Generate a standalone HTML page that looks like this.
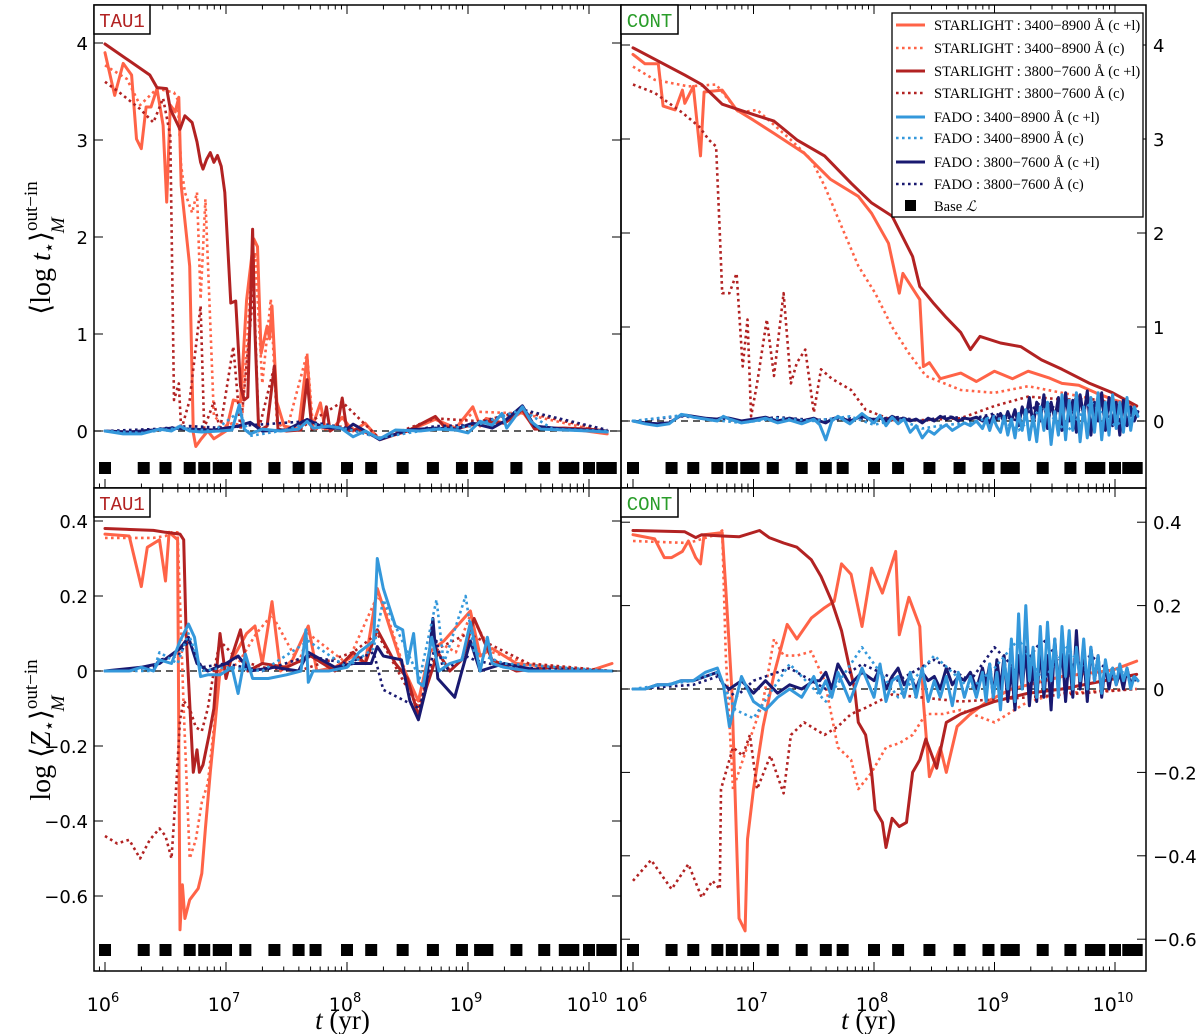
<!DOCTYPE html>
<html><head><meta charset="utf-8"><style>
html,body{margin:0;padding:0;background:#fff;}
svg{display:block;}
</style></head><body>
<svg id="fig" xmlns="http://www.w3.org/2000/svg" width="1200" height="1034" viewBox="0 0 1200 1034"></svg>
<script>
// ---------- base ages (log t) ----------
const baseAges=[6.0,6.32,6.5,6.7,6.82,6.94,7.0,7.16,7.4,7.6,7.74,8.0,8.2,8.46,8.71,8.95,9.1,9.16,9.4,9.63,9.8,9.87,10.0,10.11,10.18];
// ---------- shared grid for noisy FADO series in CONT panels ----------
const gridF=[6.0,6.1,6.2,6.3,6.4,6.45,6.5,6.6,6.7,6.75,6.8,6.9,7.0,7.1,7.2,7.3,7.4,7.5,7.55,7.6,7.65,7.7,7.8,7.9,8.0,8.05,8.1,8.15,8.2,8.25,8.3,8.35,8.4,8.45,8.5,8.55,8.6,8.65,8.7,8.75,8.8,8.85,8.9,8.93,8.96,8.99,9.02,9.05,9.08,9.11,9.14,9.17,9.2,9.23,9.26,9.29,9.32,9.35,9.38,9.41,9.44,9.47,9.5,9.53,9.56,9.59,9.62,9.65,9.68,9.71,9.74,9.77,9.8,9.83,9.86,9.89,9.92,9.95,9.98,10.01,10.04,10.07,10.1,10.13,10.16,10.19];

// ===== TOP-LEFT (TAU1, log t) =====
const tl_slA_t=[6.0,6.08,6.15,6.22,6.26,6.3,6.34,6.38,6.43,6.48,6.51,6.54,6.58,6.61,6.63,6.7,6.73,6.75,6.79,6.85,6.9,7.0,7.06,7.12,7.17,7.23,7.26,7.29,7.34,7.36,7.38,7.42,7.48,7.6,7.67,7.71,7.78,7.82,7.9,7.96,8.05,8.15,8.27,8.5,8.73,8.9,9.04,9.1,9.15,9.3,9.45,9.55,9.8,10.15];
const tl_slA_v=[3.9,3.46,3.79,3.67,3.01,2.91,3.34,3.34,3.53,3.15,2.36,3.36,3.29,3.44,2.53,1.7,-0.02,-0.16,-0.09,0.0,-0.08,0.0,0.32,0.3,1.35,1.98,1.9,0.8,1.08,0.95,1.29,0.3,0.05,0.02,0.77,0.03,0.29,0.02,0.05,0.14,0.0,0.08,-0.09,0.0,0.12,0.03,0.25,0.05,0.13,0.08,0.2,0.03,0.03,-0.03];
const tl_slAc_t=[6.0,6.18,6.29,6.43,6.57,6.6,6.63,6.66,6.72,6.76,6.79,6.83,6.86,6.9,7.0,7.05,7.13,7.2,7.24,7.3,7.37,7.42,7.5,7.67,7.72,8.0,8.27,8.5,8.9,9.05,9.45,10.15];
const tl_slAc_v=[3.77,3.63,3.36,3.53,3.49,3.42,2.73,2.46,2.25,2.46,1.36,2.39,1.42,0.15,0.05,0.08,0.06,1.42,1.84,0.49,1.36,0.1,0.0,0.8,0.02,0.05,-0.08,0.0,0.03,0.2,0.18,-0.02];
const tl_slB_t=[6.0,6.37,6.43,6.51,6.54,6.62,6.66,6.72,6.76,6.79,6.81,6.84,6.87,6.9,6.93,6.96,6.99,7.04,7.08,7.12,7.15,7.18,7.22,7.24,7.27,7.34,7.4,7.43,7.5,7.62,7.67,7.71,7.8,7.83,7.86,7.92,7.96,8.0,8.1,8.27,8.5,8.73,8.8,8.9,9.05,9.15,9.3,9.45,9.55,9.8,10.0,10.15];
const tl_slB_v=[3.99,3.67,3.54,3.53,3.32,3.11,3.25,3.18,2.98,2.77,2.7,2.8,2.87,2.77,2.84,2.73,2.46,1.32,1.34,0.46,0.32,0.35,2.08,1.01,0.0,0.05,0.67,0.02,0.0,0.01,0.53,0.02,0.05,0.25,0.0,0.05,0.34,0.0,0.02,-0.08,0.0,0.15,0.05,0.02,0.07,0.1,0.08,0.22,0.02,0.03,0.02,0.0];
const tl_slBc_t=[6.0,6.12,6.29,6.4,6.48,6.54,6.57,6.61,6.63,6.7,6.79,6.82,6.9,6.95,7.06,7.12,7.23,7.27,7.4,7.43,7.6,7.96,8.27,8.73,9.1,9.45,10.15];
const tl_slBc_v=[3.6,3.49,3.32,3.18,3.43,3.04,0.32,0.49,0.01,0.32,1.29,0.03,0.3,0.01,0.87,0.01,1.49,0.01,0.67,0.01,0.02,0.3,-0.08,0.13,0.1,0.2,0.0];
const tl_fdA_t=[6.0,6.15,6.3,6.45,6.55,6.62,6.7,6.8,6.95,7.05,7.11,7.15,7.2,7.3,7.45,7.6,7.67,7.72,7.85,7.95,8.05,8.15,8.27,8.4,8.6,8.75,8.9,9.0,9.1,9.2,9.28,9.32,9.45,9.52,9.6,9.8,10.0,10.15];
const tl_fdA_v=[0.0,-0.03,-0.03,0.02,0.0,0.05,0.0,-0.01,0.0,0.01,0.27,0.02,-0.03,0.02,0.0,0.02,0.1,0.03,0.05,0.03,-0.06,0.0,-0.08,0.01,0.0,0.02,0.01,-0.02,0.1,0.06,0.18,0.03,0.25,0.1,0.02,0.01,0.0,-0.01];
const tl_fdAc_t=[6.0,6.3,6.6,6.9,7.11,7.2,7.5,7.67,8.0,8.27,8.7,9.05,9.28,9.45,9.7,10.15];
const tl_fdAc_v=[0.0,-0.02,0.03,0.0,0.2,-0.05,0.01,0.08,0.02,-0.07,0.02,0.05,0.15,0.22,0.02,0.0];
const tl_fdB_t=[6.0,6.2,6.4,6.55,6.7,6.9,7.1,7.2,7.3,7.5,7.67,7.8,8.0,8.05,8.15,8.27,8.5,8.73,8.9,9.04,9.2,9.3,9.45,9.55,9.8,10.15];
const tl_fdB_v=[0.0,-0.01,0.01,0.03,0.02,0.01,0.05,0.09,0.0,0.01,0.12,0.04,0.02,0.07,0.0,-0.09,0.01,0.03,0.02,0.08,0.03,0.1,0.26,0.05,0.02,0.0];
const tl_fdBc_t=[6.0,6.4,6.7,7.0,7.2,7.67,8.0,8.27,8.73,9.04,9.45,10.15];
const tl_fdBc_v=[0.0,0.02,0.05,0.03,0.06,0.1,0.03,-0.07,0.05,0.06,0.22,0.01];

// ===== TOP-RIGHT (CONT, log t) =====
const tr_slA_t=[6.0,6.1,6.21,6.25,6.35,6.41,6.43,6.5,6.56,6.59,6.74,6.86,7.0,7.17,7.42,7.64,7.87,7.98,8.12,8.21,8.24,8.38,8.41,8.46,8.55,8.72,8.85,9.0,9.15,9.28,9.45,9.56,9.7,9.84,10.0,10.18];
const tr_slA_v=[3.9,3.8,3.8,3.35,3.31,3.52,3.38,3.56,2.82,3.5,3.52,3.31,3.2,3.06,2.85,2.57,2.39,2.21,1.89,1.36,1.57,1.29,0.58,0.62,0.45,0.51,0.42,0.53,0.45,0.53,0.46,0.4,0.38,0.3,0.22,0.16];
const tr_slAc_t=[6.0,6.18,6.46,6.69,6.88,7.03,7.31,7.48,7.59,7.73,7.87,8.01,8.15,8.29,8.43,8.72,9.0,9.28,9.56,9.84,10.18];
const tr_slAc_v=[3.77,3.63,3.56,3.58,3.28,3.31,2.99,2.78,2.5,2.07,1.65,1.36,1.0,0.72,0.48,0.33,0.3,0.37,0.3,0.23,0.16];
const tr_slB_t=[6.0,6.43,6.57,6.74,7.0,7.17,7.36,7.59,7.81,7.98,8.15,8.32,8.38,8.49,8.6,8.72,8.8,8.88,9.05,9.22,9.39,9.56,9.79,9.98,10.18];
const tr_slB_v=[3.97,3.68,3.58,3.37,3.26,3.19,2.99,2.82,2.53,2.32,2.18,1.75,1.43,1.26,1.1,0.94,0.76,0.9,0.83,0.79,0.65,0.55,0.4,0.3,0.16];
const tr_slBc_t=[6.0,6.18,6.41,6.55,6.63,6.69,6.72,6.74,6.8,6.86,6.91,6.95,6.98,7.03,7.11,7.17,7.25,7.31,7.36,7.43,7.5,7.56,7.65,7.81,7.93,8.15,8.43,8.72,9.0,9.28,9.56,9.84,10.18];
const tr_slBc_v=[3.58,3.49,3.28,3.13,2.99,2.92,2.0,1.36,1.36,1.57,0.58,1.08,0.05,0.4,1.08,0.48,1.36,0.4,0.62,0.76,0.09,0.55,0.45,0.33,0.12,0.01,0.01,0.03,0.16,0.26,0.23,0.23,0.12];
const tr_fdA_v=[0.0,-0.03,-0.05,-0.03,0.07,0.06,0.04,0.02,0.0,0.05,
0.02,-0.02,0.0,0.03,-0.02,0.01,-0.03,0.02,-0.04,-0.2,
0.0,0.05,-0.03,0.08,-0.02,0.06,-0.05,0.04,-0.03,0.02,
-0.12,-0.05,-0.18,-0.1,-0.14,-0.08,-0.04,-0.1,-0.06,-0.02,
-0.05,0.0,-0.08,0.02,-0.1,0.03,-0.06,-0.12,0.05,-0.15,
0.02,-0.18,0.08,-0.1,0.12,-0.2,0.05,-0.22,0.15,-0.1,
0.2,-0.25,0.1,-0.15,0.28,-0.2,0.22,-0.1,0.3,-0.22,
0.15,-0.18,0.25,-0.12,0.3,-0.2,0.2,-0.15,0.28,-0.08,
0.2,-0.12,0.25,-0.1,0.15,0.05];
const tr_fdB_v=[0.0,-0.02,-0.03,-0.02,0.06,0.06,0.05,0.03,0.02,0.04,
0.03,0.0,0.02,0.04,0.0,0.03,0.0,0.03,0.0,-0.02,
0.02,0.04,0.0,0.05,0.01,0.04,0.0,0.05,0.02,0.03,
0.0,0.02,-0.02,0.03,0.0,0.05,0.02,0.04,0.0,0.03,
0.02,0.04,0.0,0.05,-0.02,0.06,0.02,0.08,-0.02,0.1,
0.0,0.12,-0.05,0.15,0.02,0.25,-0.05,0.2,0.0,0.28,
-0.08,0.2,0.02,0.25,-0.1,0.3,0.0,0.22,-0.12,0.28,
0.05,0.32,-0.15,0.2,0.0,0.3,-0.1,0.25,-0.05,0.2,
-0.15,0.22,-0.05,0.15,0.0,0.1];
const tr_fdc_t=[6.0,6.4,6.6,6.9,7.2,7.5,7.8,8.0,8.2,8.4,8.6,8.8,9.0,9.2,9.4,9.6,9.8,10.0,10.19];
const tr_fdAc_v=[0.0,0.06,0.02,-0.02,0.03,0.0,0.05,-0.04,0.02,-0.08,-0.04,-0.02,0.05,-0.1,0.15,-0.12,0.2,-0.05,0.1];
const tr_fdBc_v=[0.0,0.05,0.03,0.0,0.04,0.01,0.03,0.02,0.04,0.0,0.05,0.02,0.08,0.0,0.22,0.05,0.18,0.0,0.08];

// ===== BOTTOM-LEFT (TAU1, log Z) =====
const bl_slA_t=[6.0,6.2,6.3,6.35,6.45,6.5,6.53,6.6,6.62,6.64,6.66,6.7,6.77,6.8,6.83,6.87,6.91,6.95,7.05,7.17,7.24,7.3,7.38,7.45,7.55,7.68,7.75,7.9,8.05,8.15,8.25,8.35,8.45,8.59,8.68,8.8,9.02,9.1,9.2,9.4,9.7,10.0,10.19];
const bl_slA_v=[0.365,0.36,0.225,0.33,0.35,0.24,0.37,0.35,-0.69,-0.57,-0.66,-0.61,-0.58,-0.54,-0.42,-0.27,-0.14,0.0,0.03,0.1,0.12,0.02,0.185,0.0,0.03,0.12,0.0,0.01,0.04,0.02,0.22,0.12,0.02,-0.08,0.05,0.08,0.16,0.04,0.06,0.02,0.01,0.0,0.02];
const bl_slAc_t=[6.0,6.4,6.5,6.55,6.6,6.65,6.7,6.75,6.8,6.85,6.9,6.95,7.1,7.25,7.38,7.6,7.68,8.0,8.25,8.3,8.45,8.59,8.74,8.9,9.02,9.2,9.5,10.19];
const bl_slAc_v=[0.355,0.355,0.36,0.37,0.37,-0.1,-0.5,-0.45,-0.35,-0.3,-0.15,0.0,0.02,0.1,0.15,0.02,0.1,0.02,0.2,0.18,0.03,-0.1,0.08,0.05,0.15,0.05,0.02,0.0];
const bl_slB_t=[6.0,6.4,6.5,6.62,6.65,6.67,6.73,6.76,6.78,6.81,6.86,6.9,6.93,6.95,7.0,7.05,7.12,7.18,7.3,7.5,7.7,7.9,8.05,8.15,8.25,8.3,8.4,8.5,8.59,8.65,8.75,8.85,8.95,9.05,9.2,9.4,9.7,10.0,10.19];
const bl_slB_v=[0.38,0.375,0.37,0.365,0.35,0.1,-0.27,-0.21,-0.27,-0.25,-0.17,-0.1,0.03,0.1,-0.02,0.04,0.11,0.0,0.02,0.01,0.04,0.0,0.05,0.02,0.11,0.08,0.02,-0.02,-0.12,-0.05,0.05,0.0,0.03,0.14,0.03,0.0,0.01,0.0,0.0];
const bl_slBc_t=[6.0,6.1,6.2,6.29,6.37,6.45,6.5,6.55,6.57,6.59,6.62,6.65,6.7,6.75,6.8,6.85,6.9,6.95,7.1,7.3,7.6,8.05,8.25,8.59,8.75,9.0,9.5,10.19];
const bl_slBc_v=[-0.44,-0.46,-0.45,-0.5,-0.45,-0.42,-0.44,-0.5,-0.4,-0.3,-0.13,-0.08,-0.1,-0.15,-0.16,-0.1,0.0,0.08,0.03,0.01,0.0,0.05,0.1,-0.1,0.06,0.1,0.02,0.0];
const bl_fdA_t=[6.0,6.2,6.3,6.4,6.45,6.55,6.62,6.69,6.74,6.79,6.85,6.95,7.05,7.1,7.16,7.22,7.35,7.5,7.62,7.66,7.68,7.72,7.85,8.0,8.1,8.22,8.25,8.3,8.4,8.46,8.5,8.55,8.59,8.63,8.7,8.76,8.85,8.95,9.02,9.1,9.16,9.2,9.3,9.5,9.8,10.19];
const bl_fdA_v=[0.0,0.0,0.01,0.0,0.03,0.02,0.08,0.125,0.09,-0.015,-0.01,-0.01,0.01,-0.06,0.045,-0.02,-0.02,-0.01,0.0,0.11,-0.03,0.0,0.0,0.01,0.05,0.08,0.3,0.22,0.12,0.11,0.02,0.1,-0.03,-0.04,0.09,0.0,0.02,0.03,0.13,0.0,0.09,0.02,0.01,0.0,0.0,0.0];
const bl_fdB_t=[6.0,6.3,6.45,6.62,6.69,6.76,6.85,7.0,7.1,7.2,7.4,7.6,7.68,7.9,8.05,8.2,8.25,8.3,8.45,8.52,8.59,8.65,8.71,8.75,8.89,8.95,9.02,9.1,9.3,9.6,10.19];
const bl_fdB_v=[0.0,0.01,0.02,0.06,0.09,0.02,0.0,0.02,0.04,0.0,0.01,0.0,0.05,0.01,0.02,0.02,0.065,0.04,0.03,-0.08,-0.13,-0.05,0.14,-0.02,-0.07,0.0,0.08,0.0,0.02,0.0,0.0];
const bl_fdc_t=[6.0,6.4,6.45,6.6,6.69,6.8,7.0,7.3,7.68,8.0,8.22,8.3,8.6,8.74,8.8,8.98,9.05,9.3,10.19];
const bl_fdAc_v=[0.0,0.0,0.05,0.02,0.1,0.0,0.01,0.0,0.08,0.01,0.06,0.19,-0.02,0.19,0.02,0.2,0.05,0.02,0.0];
const bl_fdBc_v=[0.0,0.01,0.03,0.04,0.08,0.01,0.02,0.0,0.04,0.02,0.05,-0.05,-0.1,0.08,0.0,0.04,0.03,0.01,0.0];

// ===== BOTTOM-RIGHT (CONT, log Z) =====
const br_slA_t=[6.0,6.18,6.26,6.32,6.41,6.46,6.52,6.56,6.59,6.74,6.77,6.82,6.88,6.93,6.95,7.0,7.08,7.17,7.28,7.36,7.48,7.59,7.67,7.73,7.81,7.9,7.98,8.07,8.18,8.21,8.29,8.38,8.41,8.46,8.55,8.6,8.69,8.8,8.94,9.14,9.56,9.98,10.18];
const br_slA_v=[0.37,0.36,0.315,0.315,0.33,0.355,0.315,0.3,0.37,0.375,0.24,0.0,-0.55,-0.58,-0.36,-0.24,-0.09,0.035,0.155,0.12,0.17,0.195,0.21,0.3,0.275,0.15,0.29,0.23,0.33,0.13,0.22,0.15,-0.03,-0.21,-0.14,-0.2,-0.09,-0.06,-0.03,0.0,0.03,0.045,0.067];
const br_slAc_t=[6.0,6.46,6.69,6.74,6.77,6.83,6.97,7.08,7.17,7.25,7.36,7.48,7.59,7.7,7.81,7.87,7.98,8.1,8.21,8.32,8.43,8.57,8.72,9.0,9.28,9.56,10.18];
const br_slAc_v=[0.355,0.35,0.37,0.38,0.08,-0.24,-0.12,-0.03,0.12,0.08,0.08,0.09,0.02,-0.14,-0.17,-0.24,-0.2,-0.14,-0.13,-0.11,-0.06,-0.06,-0.05,-0.08,-0.03,-0.01,0.0];
const br_slB_t=[6.0,6.43,6.52,6.57,6.74,6.88,7.05,7.13,7.25,7.36,7.48,7.56,7.65,7.73,7.79,7.84,7.87,7.93,7.98,8.01,8.07,8.1,8.15,8.21,8.27,8.32,8.38,8.43,8.52,8.6,8.72,9.0,9.28,9.56,10.18];
const br_slB_v=[0.38,0.377,0.363,0.37,0.367,0.365,0.38,0.363,0.35,0.34,0.31,0.27,0.21,0.14,0.06,0.0,-0.08,-0.11,-0.2,-0.29,-0.32,-0.38,-0.31,-0.33,-0.32,-0.2,-0.17,-0.12,-0.19,-0.08,-0.06,-0.03,-0.01,0.0,0.035];
const br_slBc_t=[6.0,6.15,6.32,6.46,6.57,6.66,6.72,6.73,6.83,6.91,6.97,7.03,7.14,7.25,7.31,7.42,7.59,7.7,7.81,7.93,8.15,8.72,9.28,10.18];
const br_slBc_v=[-0.46,-0.41,-0.48,-0.42,-0.5,-0.46,-0.48,-0.24,-0.14,-0.16,-0.11,-0.24,-0.16,-0.25,-0.11,-0.08,-0.11,-0.09,-0.06,-0.045,-0.013,-0.03,-0.02,0.0];
const br_fdA_v=[0.0,0.0,0.01,0.01,0.02,0.02,0.02,0.04,0.05,0.01,
-0.09,0.03,-0.03,-0.05,-0.02,0.0,-0.02,0.03,-0.01,0.02,
-0.02,0.04,-0.03,0.05,-0.02,0.06,-0.03,0.02,0.03,-0.02,
0.04,-0.02,0.05,-0.03,0.02,-0.02,0.03,-0.04,0.04,-0.02,
0.03,-0.02,0.04,-0.03,0.06,-0.02,0.04,-0.05,0.07,0.0,
0.12,-0.03,0.18,0.0,0.2,0.02,0.1,-0.02,0.15,0.0,
0.16,0.02,0.12,-0.02,0.15,0.03,0.14,0.0,0.1,0.02,
0.12,0.0,0.1,0.02,0.08,-0.01,0.07,0.02,0.05,0.01,
0.06,0.02,0.05,0.0,0.03,0.02];
const br_fdB_v=[0.0,0.0,0.01,0.01,0.02,0.02,0.02,0.03,0.04,0.01,
0.0,0.02,-0.01,0.02,-0.01,0.01,0.0,0.02,0.02,0.04,
0.0,0.06,0.01,0.04,0.02,0.05,0.0,0.03,0.05,0.01,
0.03,0.0,0.04,0.02,0.03,0.0,0.05,0.01,0.03,0.02,
0.04,0.0,0.05,0.01,0.06,-0.02,0.07,0.0,0.08,-0.03,
0.05,-0.05,0.08,0.0,0.1,-0.04,0.06,-0.03,0.1,-0.02,
0.08,-0.05,0.12,0.0,0.1,-0.03,0.08,-0.02,0.14,0.0,
0.08,-0.03,0.1,0.02,0.08,-0.02,0.06,0.0,0.05,0.01,
0.04,0.0,0.05,0.01,0.03,0.02];
const br_fdc_t=[6.0,6.5,6.7,6.85,7.0,7.3,7.6,7.9,8.2,8.5,8.8,9.0,9.2,9.4,9.6,9.8,10.0,10.19];
const br_fdAc_v=[0.0,0.02,0.04,-0.05,-0.07,0.06,-0.03,0.1,-0.02,0.08,0.0,0.05,0.12,0.02,0.1,0.03,0.05,0.02];
const br_fdBc_v=[0.0,0.01,0.03,-0.02,0.02,0.05,0.0,0.06,0.02,0.07,0.02,0.1,0.04,0.12,0.05,0.08,0.03,0.02];

// ---------- tick values ----------
const tTicks=[4,3,2,1,0];
const zTicks=[0.4,0.2,0.0,-0.2,-0.4,-0.6];
const xDecades=[6,7,8,9,10];

// ---------- styles ----------
const C={slA:'#ff6347',slB:'#b22222',fdA:'#3498db',fdB:'#191970'};
const NS='http://www.w3.org/2000/svg';
const svg=document.getElementById('fig');
function el(tag,attrs,parent){const e=document.createElementNS(NS,tag);for(const k in attrs)e.setAttribute(k,attrs[k]);(parent||svg).appendChild(e);return e;}

const panels={
 tl:{name:'top-left-panel',x0:94,x1:621,y0:5,y1:488,xo:105,dec:121,yz:431,ys:97,ticks:tTicks,labSide:'left',tag:'TAU1',tagc:'#b22222',sq:468},
 tr:{name:'top-right-panel',x0:621,x1:1146,y0:5,y1:488,xo:633,dec:120.5,yz:421,ys:94,ticks:tTicks,labSide:'right',tag:'CONT',tagc:'#2a9d2a',sq:468},
 bl:{name:'bottom-left-panel',x0:94,x1:621,y0:488,y1:971,xo:105,dec:121,yz:671,ys:375,ticks:zTicks,labSide:'left',tag:'TAU1',tagc:'#b22222',sq:950,xl:true},
 br:{name:'bottom-right-panel',x0:621,x1:1146,y0:488,y1:971,xo:633,dec:120.5,yz:689,ys:417,ticks:zTicks,labSide:'right',tag:'CONT',tagc:'#2a9d2a',sq:950,xl:true}
};
function X(p,t){return p.xo+(t-6)*p.dec;}
function Y(p,v){return p.yz-v*p.ys;}

const defs=el('defs',{});
function fmt(v){if(Math.abs(v)<1e-9)return Number.isInteger(v)?'0':'0.0';return (v<0?'\u2212':'')+(Number.isInteger(v)?String(Math.abs(v)):Math.abs(v).toFixed(1));}

function drawSeries(p,key,g,name,ts,vs,color,dotted){
 const n=Math.min(ts.length,vs.length);let d='';
 for(let i=0;i<n;i++){d+=(i?'L':'M')+X(p,ts[i]).toFixed(1)+','+Y(p,vs[i]).toFixed(1);}
 const path=el('path',{d:d,fill:'none',stroke:color,'stroke-width':dotted?2.6:3,'stroke-linejoin':'round','stroke-linecap':dotted?'butt':'round'},g);
 if(dotted)path.setAttribute('stroke-dasharray','2.6,3.4');
 
 
}

const seriesSets={
 tl:[['slAc',tl_slAc_t,tl_slAc_v],['slA',tl_slA_t,tl_slA_v],['slBc',tl_slBc_t,tl_slBc_v],['slB',tl_slB_t,tl_slB_v],['fdBc',tl_fdBc_t,tl_fdBc_v],['fdB',tl_fdB_t,tl_fdB_v],['fdAc',tl_fdAc_t,tl_fdAc_v],['fdA',tl_fdA_t,tl_fdA_v]],
 tr:[['slAc',tr_slAc_t,tr_slAc_v],['slA',tr_slA_t,tr_slA_v],['slBc',tr_slBc_t,tr_slBc_v],['slB',tr_slB_t,tr_slB_v],['fdBc',tr_fdc_t,tr_fdBc_v],['fdB',gridF,tr_fdB_v],['fdAc',tr_fdc_t,tr_fdAc_v],['fdA',gridF,tr_fdA_v]],
 bl:[['slAc',bl_slAc_t,bl_slAc_v],['slA',bl_slA_t,bl_slA_v],['slBc',bl_slBc_t,bl_slBc_v],['slB',bl_slB_t,bl_slB_v],['fdBc',bl_fdc_t,bl_fdBc_v],['fdB',bl_fdB_t,bl_fdB_v],['fdAc',bl_fdc_t,bl_fdAc_v],['fdA',bl_fdA_t,bl_fdA_v]],
 br:[['slAc',br_slAc_t,br_slAc_v],['slA',br_slA_t,br_slA_v],['slBc',br_slBc_t,br_slBc_v],['slB',br_slB_t,br_slB_v],['fdBc',br_fdc_t,br_fdBc_v],['fdB',gridF,br_fdB_v],['fdAc',br_fdc_t,br_fdAc_v],['fdA',gridF,br_fdA_v]]
};
const seriesNames={slA:'starlight-3400-8900-cl-line',slAc:'starlight-3400-8900-c-line',slB:'starlight-3800-7600-cl-line',slBc:'starlight-3800-7600-c-line',fdA:'fado-3400-8900-cl-line',fdAc:'fado-3400-8900-c-line',fdB:'fado-3800-7600-cl-line',fdBc:'fado-3800-7600-c-line'};

for(const k in panels){
 const p=panels[k];
 const g=el('g',{});
 
 
 const cp=el('clipPath',{id:'clip-'+k},defs);
 el('rect',{x:p.x0,y:p.y0,width:p.x1-p.x0,height:p.y1-p.y0},cp);
 const inner=el('g',{'clip-path':'url(#clip-'+k+')'},g);
 const zl=el('line',{x1:p.x0,x2:p.x1,y1:Y(p,0),y2:Y(p,0),stroke:'#000','stroke-width':1.2,'stroke-dasharray':'7,5'},inner);
 
 
 for(const s of seriesSets[k]){
  const key=s[0];const dotted=key.endsWith('c');const base=key.replace(/c$/,'');
  drawSeries(p,key,inner,seriesNames[key],s[1],s[2],C[base],dotted);
 }
 for(const a of baseAges){
  const r=el('rect',{x:X(p,a)-6,y:p.sq-6,width:12,height:12,fill:'#000'},inner);
  
  
 }
 const fr=el('rect',{x:p.x0,y:p.y0,width:p.x1-p.x0,height:p.y1-p.y0,fill:'none',stroke:'#000','stroke-width':1.5},g);
 
 
 for(let d=5;d<=10;d++){
  for(let m=1;m<=9;m++){
   const lt=d+Math.log10(m);const x=X(p,lt);
   if(x<p.x0+1||x>p.x1-1)continue;
   const L=(m===1)?9:4.5;
   el('line',{x1:x,x2:x,y1:p.y1,y2:p.y1-L,stroke:'#000','stroke-width':1},g);
   el('line',{x1:x,x2:x,y1:p.y0,y2:p.y0+L,stroke:'#000','stroke-width':1},g);
  }
 }
 if(p.xl){
  for(const d of xDecades){
   const x=X(p,d);
   const t=el('text',{x:x-2,y:1011,'font-family':'DejaVu Sans, Liberation Sans, sans-serif','font-size':19,'text-anchor':'middle',fill:'#000'},g);
   
   
   t.textContent='10';
   const sp=el('tspan',{'font-size':13,dy:-9},t);sp.textContent=String(d);
  }
  const xt=el('text',{x:(p.x0+p.x1)/2-15,y:1029,'font-family':'Liberation Serif, serif','font-size':27,'text-anchor':'middle'},g);
  
  
  const ti=el('tspan',{'font-style':'italic'},xt);ti.textContent='t';
  const tr2=el('tspan',{},xt);tr2.textContent=' (yr)';
 }
 for(const v of p.ticks){
  const y=Y(p,v);if(y<p.y0+2||y>p.y1-2)continue;
  el('line',{x1:p.x0,x2:p.x0+9,y1:y,y2:y,stroke:'#000','stroke-width':1},g);
  el('line',{x1:p.x1,x2:p.x1-9,y1:y,y2:y,stroke:'#000','stroke-width':1},g);
  const left=p.labSide==='left';
  const t=el('text',{x:left?p.x0-6:p.x1+7,y:y+7,'font-family':'DejaVu Sans, Liberation Sans, sans-serif','font-size':18,'text-anchor':left?'end':'start',fill:'#000'},g);
  
  
  t.textContent=fmt(v);
 }
 const tw=p.tag==='TAU1'?56:57;
 const tb=el('rect',{x:p.x0,y:p.y0,width:tw,height:29,fill:'#fff',stroke:'#000','stroke-width':1.5},g);
 
 
 const tt=el('text',{x:p.x0+tw/2,y:p.y0+22,'font-family':'Liberation Mono, monospace','font-size':19,'text-anchor':'middle',fill:p.tagc},g);
 
 
 tt.textContent=p.tag;
}

function yTitle(cx,cy,isZ){
 const t=el('text',{transform:'translate('+cx+','+cy+') rotate(-90)','font-family':'Liberation Serif, DejaVu Serif, serif','font-size':28,'text-anchor':'middle'});
 
 
 const a=el('tspan',{},t);a.textContent=isZ?'log \u27E8':'\u27E8log ';
 const b=el('tspan',{'font-style':'italic'},t);b.textContent=isZ?'Z':'t';
 const c=el('tspan',{'font-size':18,dy:5},t);c.textContent='\u22C6';
 const d=el('tspan',{dy:-5},t);d.textContent='\u27E9';
 const e=el('tspan',{'font-size':19,dy:-13},t);e.textContent='out\u2212in';
 const f=el('tspan',{'font-size':19,'font-style':'italic',dx:-52,dy:27},t);f.textContent='M';
}
yTitle(50,248,false);
yTitle(50,730,true);

const lg=el('g',{});


el('rect',{x:892,y:13,width:251,height:204,fill:'#fff',stroke:'#000','stroke-width':1.3},lg);
const legLabels=['STARLIGHT : 3400\u22128900 \u00C5 (c +l)','STARLIGHT : 3400\u22128900 \u00C5 (c)','STARLIGHT : 3800\u22127600 \u00C5 (c +l)','STARLIGHT : 3800\u22127600 \u00C5 (c)','FADO : 3400\u22128900 \u00C5 (c +l)','FADO : 3400\u22128900 \u00C5 (c)','FADO : 3800\u22127600 \u00C5 (c +l)','FADO : 3800\u22127600 \u00C5 (c)'];
const legColors=[C.slA,C.slA,C.slB,C.slB,C.fdA,C.fdA,C.fdB,C.fdB];
const legY=[25,48,71,93,117,138,162,184];
for(let i=0;i<legLabels.length;i++){
 const en=el('g',{},lg);
 
 
 const ln=el('line',{x1:896,x2:925,y1:legY[i],y2:legY[i],stroke:legColors[i],'stroke-width':i%2?2.6:3},en);
 if(i%2)ln.setAttribute('stroke-dasharray','2.6,3.4');
 const tx=el('text',{x:934,y:legY[i]+5,'font-family':'Liberation Serif, serif','font-size':14.5,fill:'#000'},en);
 tx.textContent=legLabels[i];
}
const be=el('g',{},lg);


el('rect',{x:905,y:200,width:11,height:11,fill:'#000'},be);
const bt=el('text',{x:934,y:211,'font-family':'Liberation Serif, serif','font-size':14.5},be);
bt.textContent='Base ';
const bs=el('tspan',{'font-style':'italic'},bt);bs.textContent='\u2112';
</script>
</body></html>
